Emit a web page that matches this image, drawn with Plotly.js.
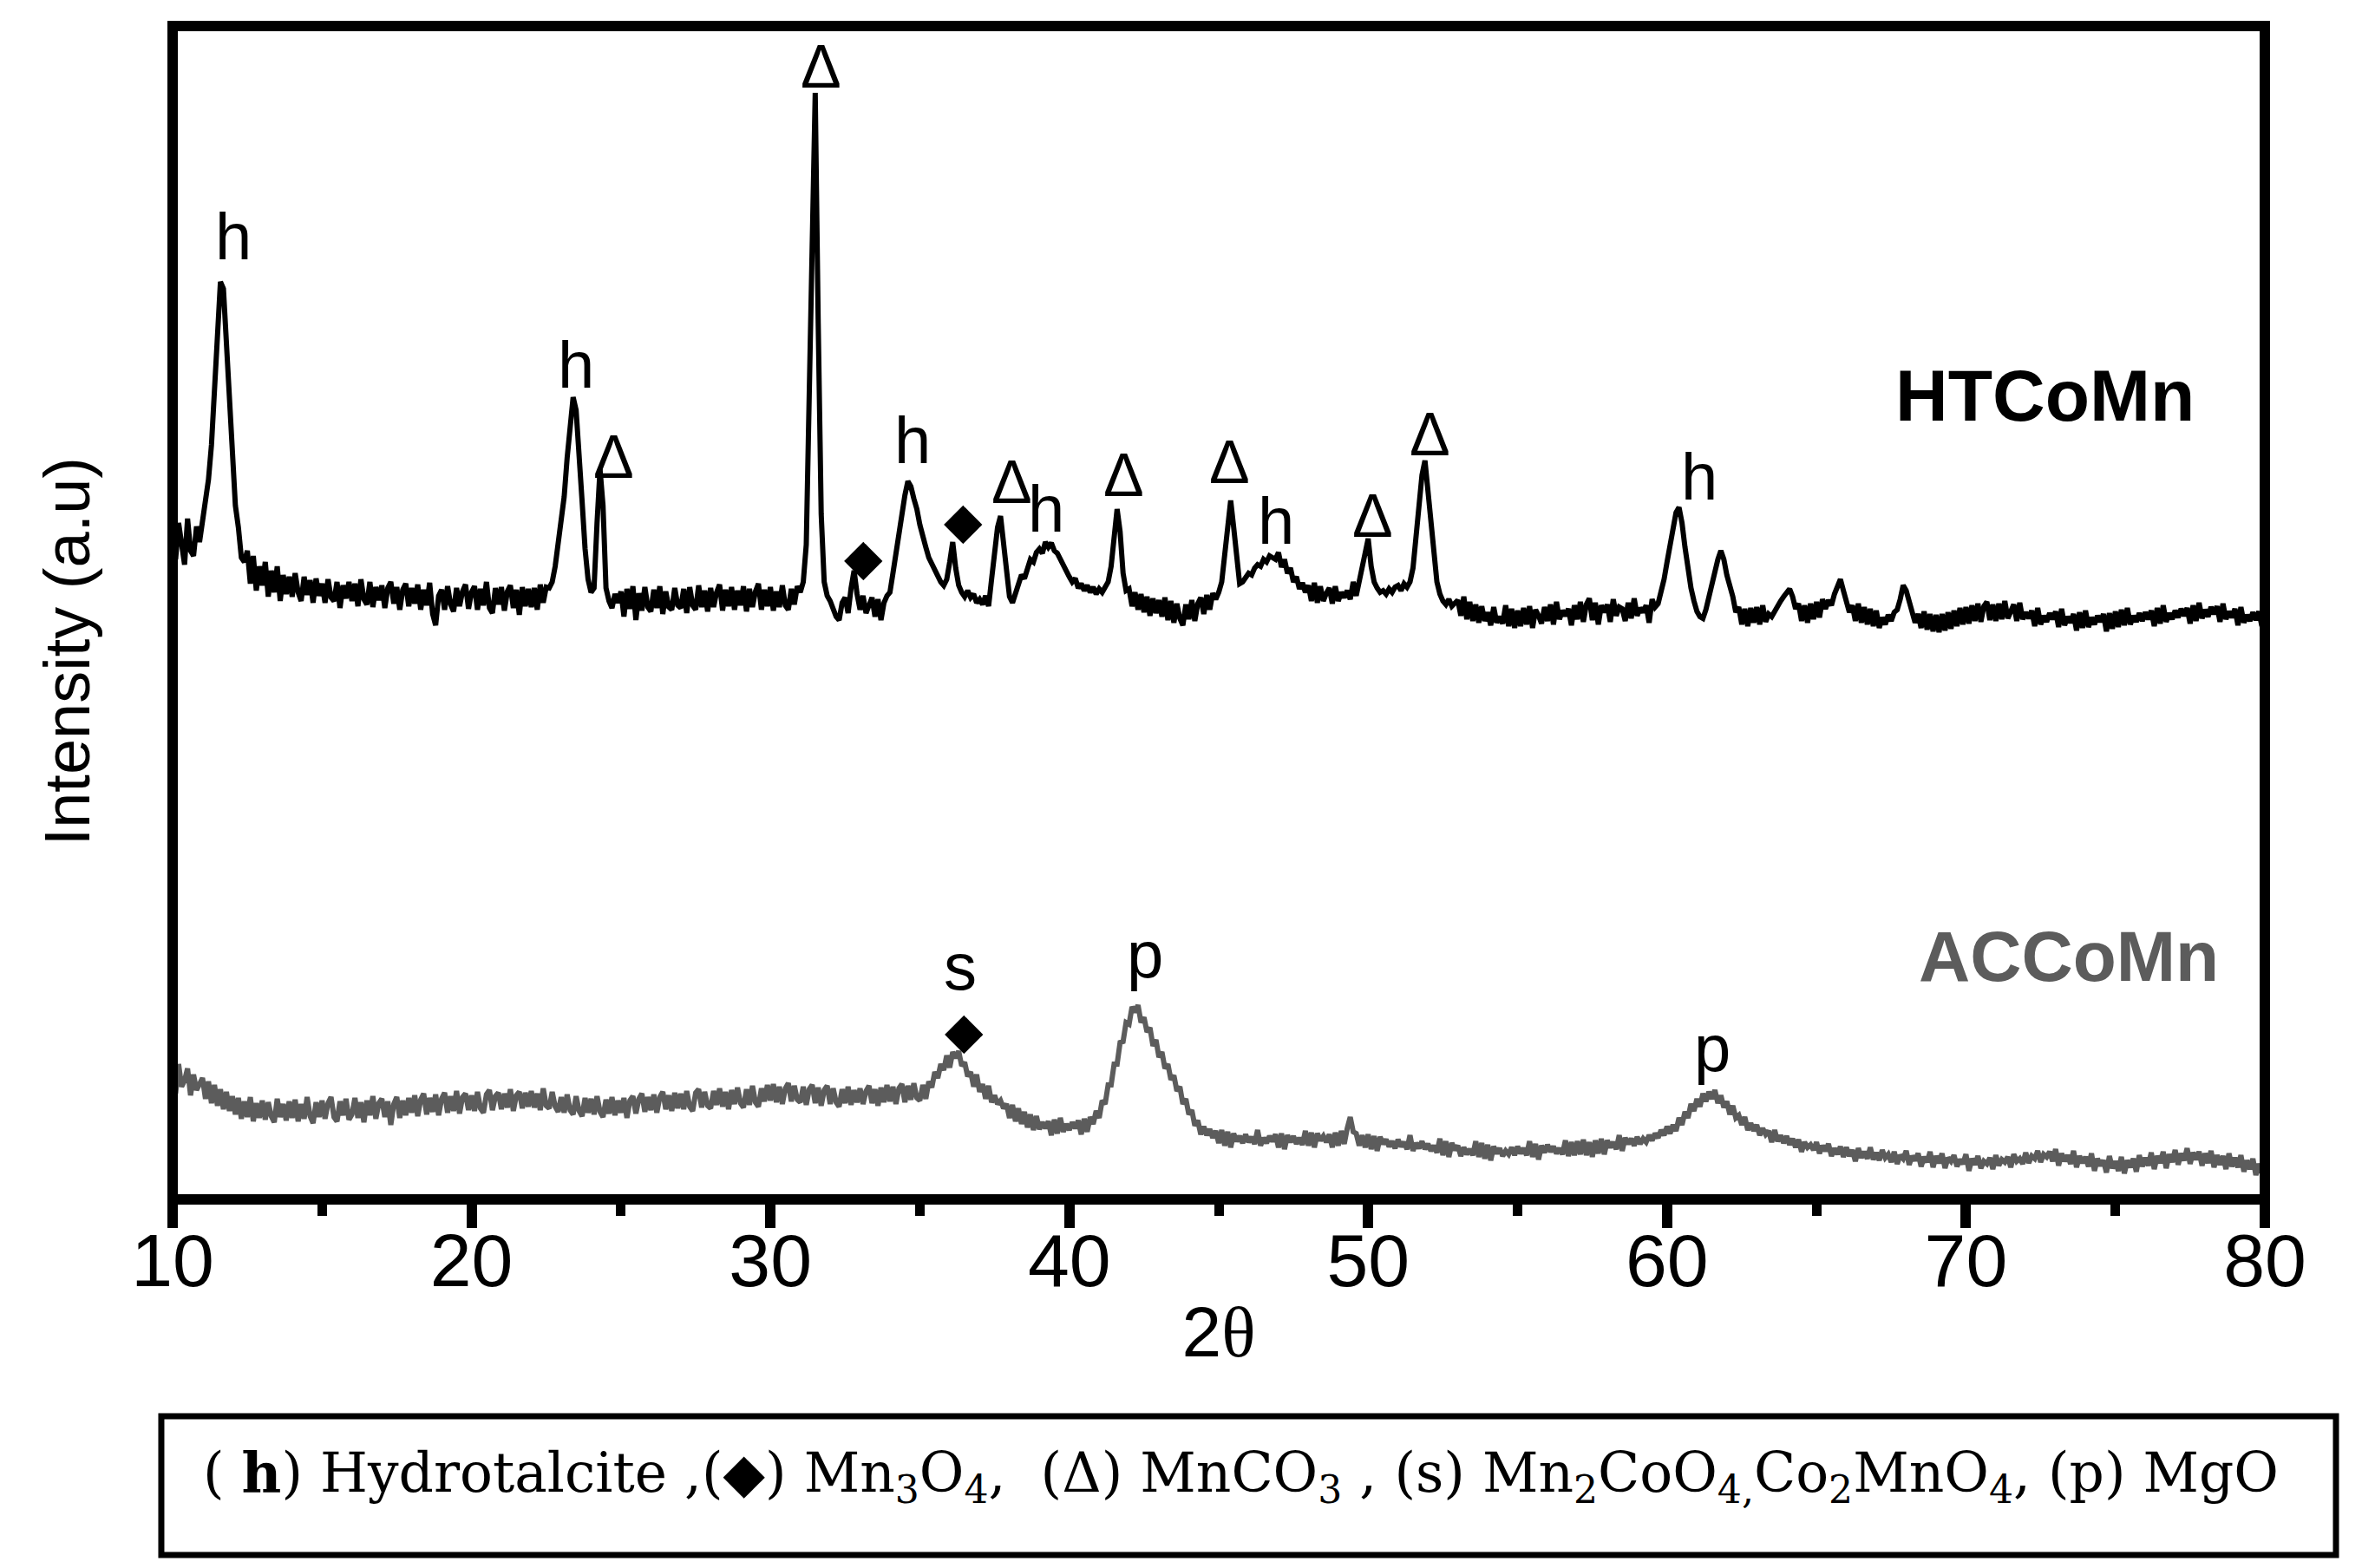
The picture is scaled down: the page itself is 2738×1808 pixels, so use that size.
<!DOCTYPE html>
<html><head><meta charset="utf-8">
<script src="https://cdn.plot.ly/plotly-3.0.1.min.js"></script>
<style>html,body{margin:0;padding:0;background:#fff;} #chart{width:2738px;height:1808px;}</style>
</head><body><div id="chart"></div>
<script>
// 2-theta grid of the digitised patterns (degrees)
const TWO_THETA_START = 10;
const TWO_THETA_STEP = 0.1;

// HTCoMn intensity (a.u.), one value per 0.1 deg from 10.0 to 80.0
const HT_INTENSITY = [
772,738,780,750,732,785,748,742,776,758,
780,800,830,870,925,1000,1058,1050,980,910,
850,800,775,740,735,748,710,742,702,730,
708,735,695,725,700,730,690,720,698,718,
695,722,700,690,718,697,714,688,716,696,
710,688,715,694,690,712,682,708,693,712,
690,710,684,715,692,686,712,683,706,691,
708,682,705,712,687,706,680,703,710,684,
705,687,709,680,703,685,711,675,662,696,
703,680,707,686,678,705,684,701,709,681,
700,707,680,704,685,712,682,676,705,686,
706,679,701,708,682,703,674,706,684,704,
683,705,680,709,688,706,705,712,730,755,
775,810,855,898,925,910,865,805,750,715,
700,705,780,842,800,705,690,682,698,688,
701,672,704,681,707,668,699,679,706,683,
678,703,682,707,675,701,683,680,705,685,
682,704,676,706,685,680,708,683,702,678,
705,683,700,709,679,703,684,706,680,702,
685,707,678,704,683,701,710,680,703,684,
706,679,701,683,708,685,680,704,686,707,
700,712,755,920,1150,1276,1010,790,712,696,
690,680,672,668,688,694,676,705,725,698,
680,696,676,685,694,672,692,668,688,696,
700,722,745,770,795,812,828,822,808,796,
778,762,752,740,733,725,718,712,708,715,
735,758,728,708,700,695,702,694,698,688,
692,686,696,684,715,740,775,788,755,718,
695,688,700,712,720,716,730,738,735,746,
750,745,758,752,757,748,745,738,730,722,
718,712,716,705,710,702,708,700,706,698,
704,700,705,712,730,762,796,770,722,702,
704,684,700,680,698,677,695,673,693,676,
691,672,694,668,690,665,687,670,662,686,
669,691,667,687,694,675,697,680,699,692,
700,712,740,780,806,775,740,710,712,718,
722,720,728,732,730,738,735,742,740,738,
746,729,738,722,728,712,718,704,711,700,
708,690,711,688,707,690,699,705,687,707,
690,700,694,702,692,712,696,712,728,750,
762,730,712,705,700,702,698,704,700,706,
708,702,710,706,712,728,765,800,835,852,
820,780,745,712,698,690,686,692,684,688,
691,673,695,669,689,667,686,665,684,667,
677,662,683,665,672,664,685,661,681,659,
679,661,682,663,684,659,680,673,664,683,
667,686,663,689,669,679,673,681,662,685,
669,689,666,686,693,668,688,663,685,677,
686,666,692,673,683,681,667,688,670,693,
673,682,677,685,665,692,683,687,700,715,
735,755,772,792,798,780,752,725,705,690,
678,672,670,680,695,708,722,738,748,738,
720,708,695,677,683,663,681,661,682,665,
683,663,685,666,675,672,679,684,690,695,
700,704,695,681,687,667,685,665,687,669,
689,671,692,681,691,685,698,705,715,702,
690,677,685,667,687,665,683,663,681,661,
679,659,671,663,674,667,677,680,692,708,
702,688,678,665,675,659,678,657,675,655,
674,654,675,656,677,658,679,661,682,663,
683,664,685,667,687,666,684,689,668,686,
667,687,669,690,670,679,686,667,688,669,
677,670,679,661,682,663,673,666,676,669,
678,660,681,662,672,665,675,656,677,659,
679,660,671,663,673,666,675,655,676,658,
678,660,680,662,682,663,673,666,676,667,
677,669,679,661,682,664,685,666,676,669,
679,671,681,673,682,664,685,667,688,670,
680,672,683,675,684,666,687,669,678,671,
681,662,683,665,674,667,677,668,678,661,
670];

// ACCoMn intensity (a.u.), one value per 0.1 deg from 10.0 to 80.0
const AC_INTENSITY = [
148,122,156,130,137,151,120,144,126,133,
140,116,136,111,132,108,127,104,124,102,
119,98,117,93,113,95,118,90,111,94,
114,92,112,96,89,116,95,110,91,113,
94,115,90,110,93,118,96,88,112,95,
114,93,111,118,95,90,113,97,116,92,
98,117,94,112,89,114,97,119,93,111,
116,95,113,86,110,118,94,114,97,117,
100,120,96,115,122,98,117,101,121,97,
116,123,100,119,102,125,99,118,122,103,
120,102,124,105,100,121,126,103,119,123,
104,122,106,127,102,120,124,105,123,107,
125,106,122,103,128,108,105,124,107,101,
118,100,121,103,98,119,102,96,117,100,
116,98,119,101,95,115,99,118,97,114,
100,117,94,114,119,99,116,122,101,118,
103,121,100,118,124,104,120,102,123,105,
122,104,125,107,102,123,127,106,124,108,
105,125,109,128,107,124,104,126,110,129,
111,106,127,109,131,112,107,128,113,132,
114,133,112,130,110,128,134,113,131,115,
112,130,109,127,132,111,129,108,126,131,
110,128,112,107,127,111,130,109,126,112,
128,110,125,131,111,127,108,129,112,132,
113,130,110,128,133,112,131,115,134,117,
114,132,116,136,129,147,140,156,149,166,
152,170,163,171,154,158,142,147,130,144,
124,133,116,131,112,120,110,114,105,110,
94,109,90,105,87,101,83,98,80,96,
81,89,82,90,74,92,76,94,78,87,
80,89,82,91,75,93,78,95,87,102,
94,114,110,132,132,156,156,181,182,204,
202,222,216,224,204,210,193,198,177,184,
164,170,151,156,138,143,125,130,110,116,
98,103,85,91,75,84,74,81,71,79,
65,80,62,78,60,76,67,73,65,75,
66,72,64,80,62,71,65,73,67,75,
60,76,58,74,66,73,64,71,63,79,
62,77,60,76,68,73,66,75,60,77,
62,79,64,82,95,78,76,62,74,60,
75,58,73,56,72,64,69,61,67,59,
69,61,66,58,74,56,65,59,67,58,
64,56,62,54,70,51,67,49,65,57,
62,50,60,52,58,51,67,49,65,47,
63,45,61,53,59,50,56,52,60,51,
61,53,59,51,67,49,64,46,62,54,
63,55,61,53,59,52,68,50,66,51,
67,52,69,51,66,49,68,53,70,52,
68,60,66,58,74,56,71,64,70,62,
72,64,70,66,74,68,76,71,80,74,
84,76,86,79,94,86,101,94,110,102,
116,107,122,113,124,116,126,111,120,106,
113,98,108,94,97,86,95,80,88,79,
86,74,82,75,79,66,80,67,74,65,
73,63,70,60,69,55,66,60,63,57,
66,53,62,56,64,50,59,52,61,49,
60,50,57,44,59,48,55,47,60,46,
54,45,57,48,52,43,55,41,51,47,
56,40,50,45,53,38,49,43,55,37,
50,42,53,36,48,44,51,38,46,41,
52,33,47,40,50,36,44,41,48,35,
51,39,46,43,49,37,52,44,47,41,
54,42,50,47,56,43,52,49,55,44,
58,39,53,44,51,41,56,37,50,42,
49,38,53,33,47,39,45,31,50,36,
44,33,49,30,45,37,47,32,51,38,
48,39,54,35,50,42,55,36,52,43,
57,40,53,45,59,41,54,46,55,39,
53,42,56,37,51,40,50,35,53,38,
48,37,51,32,45,35,47,28,41,31,
30];

// Sample names
const SAMPLE_NAMES = ['HTCoMn', 'ACCoMn'];

// Phase labels above the peaks (2-theta of label, intensity level of label, phase symbol)
const HT_PEAK_2THETA = [12.03, 23.5, 24.75, 31.68, 33.13, 34.76, 36.44, 38.07, 39.22, 41.81, 45.36, 46.91, 50.15, 52.06, 61.09];
const HT_PEAK_LEVEL  = [1111, 963, 856, 1306, 741, 876, 783, 827, 797, 835, 850, 783, 788, 882, 834];
const HT_PEAK_PHASE  = ['h','h','Δ','Δ','◆','h','◆','Δ','h','Δ','Δ','h','Δ','Δ','h'];
const AC_PEAK_2THETA = [36.36, 36.47, 42.54, 61.52];
const AC_PEAK_LEVEL  = [269, 195, 283, 175];
const AC_PEAK_PHASE  = ['s','◆','p','p'];

// Axis
const X_RANGE = [10, 80];
const Y_RANGE = [0, 1353];
const X_TITLE = '2<span style="font-family:Liberation Serif">θ</span>';
const Y_TITLE = 'Intensity (a.u)';
const KEY_TEXT = '( <b>h</b>) Hydrotalcite ,(◆) Mn<sub>3</sub>O<sub>4</sub>,  (Δ) MnCO<sub>3</sub> , (s) Mn<sub>2</sub>CoO<sub>4,</sub>Co<sub>2</sub>MnO<sub>4</sub>, (p) MgO';

const SANS = 'Liberation Sans, Arial, Helvetica, sans-serif';
const HT_COLOR = '#000000';
const AC_COLOR = '#5c5c5c';

const phaseFont = {
  'h': {family: SANS, size: 76},
  's': {family: SANS, size: 76},
  'p': {family: SANS, size: 76},
  'Δ': {family: SANS, size: 70},
  '◆': {family: 'DejaVu Sans, sans-serif', size: 58}
};

const traces = [
  {type: 'scatter', mode: 'lines', name: SAMPLE_NAMES[0], x0: TWO_THETA_START, dx: TWO_THETA_STEP,
   y: HT_INTENSITY, line: {color: HT_COLOR, width: 6}, hoverinfo: 'skip'},
  {type: 'scatter', mode: 'lines', name: SAMPLE_NAMES[1], x0: TWO_THETA_START, dx: TWO_THETA_STEP,
   y: AC_INTENSITY, line: {color: AC_COLOR, width: 6}, hoverinfo: 'skip'}
];

const annotations = [];
function addPeakLabels(xs, ys, labels) {
  labels.forEach((t, i) => {
    annotations.push({x: xs[i], y: ys[i], xref: 'x', yref: 'y', text: t, showarrow: false,
      xanchor: 'center', yanchor: 'middle', font: Object.assign({color: '#000'}, phaseFont[t])});
  });
}
addPeakLabels(HT_PEAK_2THETA, HT_PEAK_LEVEL, HT_PEAK_PHASE);
addPeakLabels(AC_PEAK_2THETA, AC_PEAK_LEVEL, AC_PEAK_PHASE);

annotations.push({x: 72.65, y: 927, xref: 'x', yref: 'y', text: '<b>' + SAMPLE_NAMES[0] + '</b>', showarrow: false,
  xanchor: 'center', yanchor: 'middle', font: {family: SANS, size: 84, color: HT_COLOR}});
annotations.push({x: 73.44, y: 281, xref: 'x', yref: 'y', text: '<b>' + SAMPLE_NAMES[1] + '</b>', showarrow: false,
  xanchor: 'center', yanchor: 'middle', font: {family: SANS, size: 82, color: AC_COLOR}});
// y-axis title
annotations.push({x: -0.0505, y: 0.467, xref: 'paper', yref: 'paper', text: Y_TITLE, textangle: -90, showarrow: false,
  xanchor: 'center', yanchor: 'middle', font: {family: SANS, size: 74, color: '#000'}});
// phase key
annotations.push({x: 0.5104, y: -0.2358, xref: 'paper', yref: 'paper', text: KEY_TEXT, showarrow: false,
  xanchor: 'center', yanchor: 'middle', font: {family: 'DejaVu Serif, Liberation Serif, serif', size: 63, color: '#000'}});

const layout = {
  width: 2738, height: 1808,
  margin: {l: 199, r: 127, t: 30, b: 425, pad: 0},
  paper_bgcolor: '#fff', plot_bgcolor: '#fff',
  showlegend: false,
  xaxis: {
    range: X_RANGE, tick0: 10, dtick: 10, ticks: 'outside', ticklen: 32, tickwidth: 12, tickcolor: '#000',
    ticklabelstandoff: -36,
    tickfont: {family: SANS, size: 86, color: '#000'},
    showgrid: false, zeroline: false, showline: false,
    minor: {dtick: 5, ticks: 'outside', ticklen: 18, tickwidth: 11, tickcolor: '#000', showgrid: false},
    title: {text: X_TITLE, font: {family: SANS, size: 82, color: '#000'}, standoff: 6}
  },
  yaxis: {
    range: Y_RANGE, showticklabels: false, ticks: '', showgrid: false, zeroline: false, showline: false
  },
  shapes: [
    {type: 'rect', xref: 'paper', yref: 'paper', x0: 0, x1: 1, y0: 0, y1: 1, line: {color: '#000', width: 12}, layer: 'above'},
    {type: 'rect', xref: 'paper', yref: 'paper', x0: -0.0054, x1: 1.034, y0: -0.1848, y1: -0.303, line: {color: '#000', width: 7}}
  ],
  annotations: annotations
};

Plotly.newPlot('chart', traces, layout, {staticPlot: true, displayModeBar: false});
</script>
</body></html>
